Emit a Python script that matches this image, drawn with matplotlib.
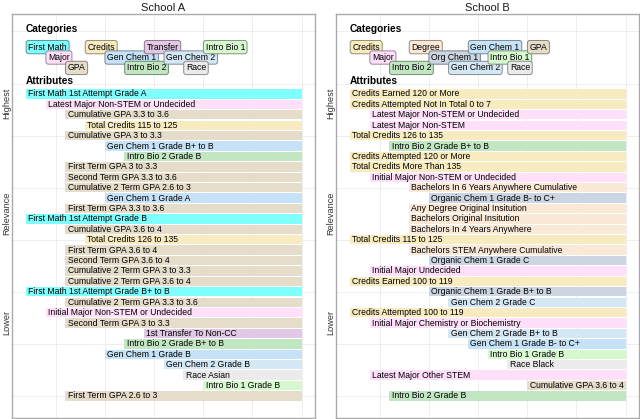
import matplotlib
matplotlib.use("Agg")
import matplotlib.pyplot as plt
from matplotlib.patches import Rectangle
from matplotlib import colors as mcolors

plt.rcParams['font.family'] = ['Liberation Sans', 'DejaVu Sans']

# ---------------- data ----------------
categories_a = ["First Math", "Major", "GPA", "Credits", "Gen Chem 1",
                "Intro Bio 2", "Transfer", "Gen Chem 2", "Race", "Intro Bio 1"]
attributes_a = [
    "First Math 1st Attempt Grade A", "Latest Major Non-STEM or Undecided",
    "Cumulative GPA 3.3 to 3.6", "Total Credits 115 to 125",
    "Cumulative GPA 3 to 3.3", "Gen Chem 1 Grade B+ to B",
    "Intro Bio 2 Grade B", "First Term GPA 3 to 3.3",
    "Second Term GPA 3.3 to 3.6", "Cumulative 2 Term GPA 2.6 to 3",
    "Gen Chem 1 Grade A", "First Term GPA 3.3 to 3.6",
    "First Math 1st Attempt Grade B", "Cumulative GPA 3.6 to 4",
    "Total Credits 126 to 135", "First Term GPA 3.6 to 4",
    "Second Term GPA 3.6 to 4", "Cumulative 2 Term GPA 3 to 3.3",
    "Cumulative 2 Term GPA 3.6 to 4", "First Math 1st Attempt Grade B+ to B",
    "Cumulative 2 Term GPA 3.3 to 3.6", "Initial Major Non-STEM or Undecided",
    "Second Term GPA 3 to 3.3", "1st Transfer To Non-CC",
    "Intro Bio 2 Grade B+ to B", "Gen Chem 1 Grade B",
    "Gen Chem 2 Grade B", "Race Asian", "Intro Bio 1 Grade B",
    "First Term GPA 2.6 to 3"]
attr_cat_a = [
    "First Math", "Major", "GPA", "Credits", "GPA", "Gen Chem 1",
    "Intro Bio 2", "GPA", "GPA", "GPA", "Gen Chem 1", "GPA",
    "First Math", "GPA", "Credits", "GPA", "GPA", "GPA", "GPA",
    "First Math", "GPA", "Major", "GPA", "Transfer", "Intro Bio 2",
    "Gen Chem 1", "Gen Chem 2", "Race", "Intro Bio 1", "GPA"]

categories_b = ["Credits", "Major", "Intro Bio 2", "Degree", "Org Chem 1",
                "Gen Chem 2", "Gen Chem 1", "Intro Bio 1", "Race", "GPA"]
attributes_b = [
    "Credits Earned 120 or More", "Credits Attempted Not In Total 0 to 7",
    "Latest Major Non-STEM or Undecided", "Latest Major Non-STEM",
    "Total Credits 126 to 135", "Intro Bio 2 Grade B+ to B",
    "Credits Attempted 120 or More", "Total Credits More Than 135",
    "Initial Major Non-STEM or Undecided",
    "Bachelors In 6 Years Anywhere Cumulative",
    "Organic Chem 1 Grade B- to C+", "Any Degree Original Insitution",
    "Bachelors Original Insitution", "Bachelors In 4 Years Anywhere",
    "Total Credits 115 to 125", "Bachelors STEM Anywhere Cumulative",
    "Organic Chem 1 Grade C", "Initial Major Undecided",
    "Credits Earned 100 to 119", "Organic Chem 1 Grade B+ to B",
    "Gen Chem 2 Grade C", "Credits Attempted 100 to 119",
    "Initial Major Chemistry or Biochemistry", "Gen Chem 2 Grade B+ to B",
    "Gen Chem 1 Grade B- to C+", "Intro Bio 1 Grade B", "Race Black",
    "Latest Major Other STEM", "Cumulative GPA 3.6 to 4",
    "Intro Bio 2 Grade B"]
attr_cat_b = [
    "Credits", "Credits", "Major", "Major", "Credits", "Intro Bio 2",
    "Credits", "Credits", "Major", "Degree", "Org Chem 1", "Degree",
    "Degree", "Degree", "Credits", "Degree", "Org Chem 1", "Major",
    "Credits", "Org Chem 1", "Gen Chem 2", "Credits", "Major",
    "Gen Chem 2", "Gen Chem 1", "Intro Bio 1", "Race", "Major", "GPA",
    "Intro Bio 2"]

category_colors = {
    "First Math": "#80FFFF", "Major": "#FFDFFA", "GPA": "#E6DCCA",
    "Credits": "#F7EBBF", "Gen Chem 1": "#C6E2F7", "Intro Bio 2": "#C2E6C2",
    "Transfer": "#E2C8E6", "Gen Chem 2": "#D4E7F4", "Race": "#EBEBEB",
    "Intro Bio 1": "#D5F8CF", "Degree": "#FBE9D8", "Org Chem 1": "#CCD6E2",
}

schools = ["School A", "School B"]
relevance_labels = ["Highest", "Relevance", "Lower"]
relevance_pos = [1.9, 12.5, 22.9]

# ---------------- drawing ----------------
W, H = 640, 419
fig = plt.figure(figsize=(W / 100, H / 100), dpi=100)

panels = [(categories_a, attributes_a, attr_cat_a),
          (categories_b, attributes_b, attr_cat_b)]
lefts = [12, 336]
pw = 303
ptop, pbot = 14, 418
XMAX = 14
FS = 6.2


def darker(c, f=0.55):
    r, g, b = mcolors.to_rgb(c)
    return (r * f, g * f, b * f)


for (cats, attrs, acats), left, title in zip(panels, lefts, schools):
    ax = fig.add_axes([left / W, 1 - pbot / H, pw / W, (pbot - ptop) / H])
    ax.set_xlim(-0.71, 14.68)
    ax.set_ylim(32.12, -6.68)
    for s in ax.spines.values():
        s.set_color("#ABABAB")
        s.set_linewidth(1.0)
    ax.set_xticks([1.5, 4, 6.5, 9, 11.5, 14])
    ax.set_xticklabels([])
    ax.tick_params(axis='x', length=0)
    ax.set_yticks(list(range(-5, 31, 5)))
    ax.grid(True, color="#EBEBEB", linewidth=0.6)
    ax.set_axisbelow(True)
    ax.tick_params(axis='y', length=0)
    ax.set_yticks(relevance_pos, minor=True)
    ax.set_yticklabels([], minor=False)
    ax.set_yticklabels(relevance_labels, minor=True, rotation=90,
                       va='center', fontsize=6.6, color="#333333")
    ax.tick_params(axis='y', which='minor', length=0, pad=0.8)
    ax.set_title(title, fontsize=8, pad=2, color="#1A1A1A")

    ax.text(0, -5.2, "Categories", fontsize=7.3, fontweight='bold',
            va='center', ha='left')
    ax.text(0, -0.25, "Attributes", fontsize=7.3, fontweight='bold',
            va='center', ha='left')

    for i, c in enumerate(cats):
        y = -3.5 + (i % 3)
        col = category_colors[c]
        ax.text(i + 0.12, y, c, fontsize=FS, va='center', ha='left',
                bbox=dict(boxstyle="round,pad=0.25,rounding_size=0.3",
                          fc=col, ec=darker(col, 0.6), lw=0.7))

    for r, (a, ac) in enumerate(zip(attrs, acats), start=1):
        xi = cats.index(ac)
        col = category_colors[ac]
        ax.add_patch(Rectangle((xi, r - 0.45), XMAX - xi, 0.9,
                               facecolor=col, edgecolor='none', zorder=2))
        ax.text(xi + 0.12, r, a, fontsize=FS, va='center', ha='left',
                zorder=3)

fig.savefig("out.png", dpi=100)
